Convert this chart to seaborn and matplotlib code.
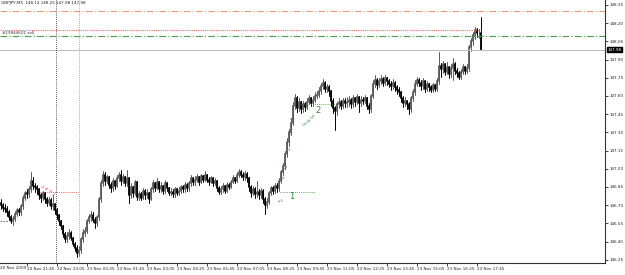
import numpy as np
import pandas as pd
import matplotlib
matplotlib.use("Agg")
import matplotlib.pyplot as plt
import matplotlib.transforms as mtransforms
from matplotlib import font_manager
import seaborn as sns

# ---------------- data ----------------
symbol_header = "GBPJPY,M5  148.12 148.25 147.98 147.98"
first_open = 146.72
closes = [
    146.70, 146.68, 146.67, 146.64, 146.60, 146.57, 146.59, 146.63, 146.66, 146.64,
    146.69, 146.76, 146.80, 146.79, 146.83, 146.90, 146.86, 146.85, 146.83, 146.78,
    146.76, 146.80, 146.75, 146.72, 146.74, 146.69, 146.71, 146.66, 146.62, 146.57,
    146.53, 146.46, 146.42, 146.45, 146.47, 146.43, 146.38, 146.35, 146.31, 146.33,
    146.42, 146.47, 146.49, 146.57, 146.60, 146.62, 146.58, 146.55, 146.60, 146.75,
    146.88, 146.95, 146.90, 146.93, 146.87, 146.84, 146.90, 146.86, 146.92, 146.95,
    146.90, 146.93, 146.88, 146.92, 146.78, 146.85, 146.80, 146.89, 146.77, 146.79,
    146.76, 146.82, 146.78, 146.80, 146.75, 146.83, 146.88, 146.84, 146.89, 146.83,
    146.86, 146.82, 146.88, 146.84, 146.80, 146.81, 146.79, 146.83, 146.80, 146.82,
    146.85, 146.83, 146.87, 146.84, 146.88, 146.92, 146.89, 146.91, 146.93, 146.89,
    146.94, 146.91, 146.95, 146.91, 146.89, 146.92, 146.88, 146.90, 146.84, 146.81,
    146.83, 146.86, 146.82, 146.87, 146.85, 146.89, 146.92, 146.90, 146.95, 146.97,
    146.95, 146.93, 146.96, 146.92, 146.85, 146.80, 146.83, 146.79, 146.81, 146.78,
    146.82, 146.75, 146.70, 146.73, 146.80, 146.84, 146.82, 146.86, 146.84, 146.90,
    146.97, 147.02, 147.12, 147.22, 147.30, 147.38, 147.52, 147.58, 147.50, 147.55,
    147.49, 147.53, 147.51, 147.55, 147.58, 147.54, 147.57, 147.60, 147.61, 147.64,
    147.68, 147.71, 147.66, 147.67, 147.64, 147.56, 147.50, 147.48, 147.53, 147.55,
    147.52, 147.56, 147.54, 147.55, 147.57, 147.53, 147.58, 147.55, 147.59, 147.54,
    147.57, 147.56, 147.58, 147.52, 147.49, 147.60, 147.70, 147.73, 147.69, 147.72,
    147.74, 147.71, 147.75, 147.72, 147.70, 147.68, 147.71, 147.67, 147.65, 147.63,
    147.58, 147.54, 147.56, 147.53, 147.49, 147.58, 147.63, 147.70, 147.73, 147.71,
    147.68, 147.72, 147.66, 147.70, 147.67, 147.65, 147.69, 147.66, 147.72, 147.85,
    147.82, 147.86, 147.80, 147.84, 147.78, 147.83, 147.86, 147.81, 147.79, 147.76,
    147.80, 147.84, 147.81, 147.83, 148.00, 148.05, 148.10, 148.14, 148.12, 148.12,
    147.98,
]
highs = [
    146.75, 146.72, 146.71, 146.69, 146.66, 146.62, 146.61, 146.65, 146.68, 146.68,
    146.71, 146.78, 146.82, 146.83, 146.86, 146.97, 146.93, 146.88, 146.87, 146.84,
    146.80, 146.82, 146.81, 146.77, 146.77, 146.76, 146.78, 146.72, 146.68, 146.63,
    146.58, 146.54, 146.48, 146.48, 146.50, 146.49, 146.44, 146.40, 146.37, 146.36,
    146.44, 146.50, 146.52, 146.59, 146.63, 146.65, 146.64, 146.60, 146.62, 146.77,
    146.91, 146.98, 146.97, 146.95, 146.94, 146.89, 146.92, 146.91, 146.95, 146.97,
    146.99, 146.96, 146.94, 146.99, 146.93, 146.88, 146.86, 146.91, 146.90, 146.82,
    146.81, 146.84, 146.83, 146.83, 146.81, 146.85, 146.91, 146.89, 146.92, 146.90,
    146.89, 146.87, 146.91, 146.89, 146.85, 146.84, 146.83, 146.85, 146.84, 146.85,
    146.87, 146.87, 146.89, 146.88, 146.90, 146.95, 146.93, 146.94, 146.96, 146.94,
    146.96, 146.95, 146.98, 146.96, 146.93, 146.94, 146.93, 146.92, 146.91, 146.86,
    146.86, 146.88, 146.87, 146.89, 146.88, 146.91, 146.95, 146.93, 146.97, 147.00,
    146.99, 146.97, 146.98, 146.97, 146.93, 146.87, 146.86, 146.85, 146.90, 146.83,
    146.84, 146.83, 146.77, 146.76, 146.82, 146.86, 146.86, 146.88, 146.88, 146.92,
    146.99, 147.05, 147.15, 147.25, 147.33, 147.42, 147.55, 147.62, 147.60, 147.58,
    147.56, 147.56, 147.55, 147.58, 147.61, 147.59, 147.60, 147.63, 147.64, 147.67,
    147.71, 147.74, 147.72, 147.70, 147.69, 147.65, 147.58, 147.52, 147.55, 147.58,
    147.57, 147.58, 147.58, 147.59, 147.60, 147.58, 147.61, 147.59, 147.62, 147.60,
    147.60, 147.59, 147.61, 147.59, 147.54, 147.62, 147.73, 147.77, 147.75, 147.75,
    147.77, 147.76, 147.77, 147.76, 147.74, 147.72, 147.74, 147.72, 147.69, 147.67,
    147.64, 147.60, 147.59, 147.57, 147.55, 147.60, 147.66, 147.73, 147.76, 147.75,
    147.73, 147.75, 147.73, 147.72, 147.71, 147.69, 147.71, 147.70, 147.75, 147.96,
    147.87, 147.89, 147.87, 147.88, 147.85, 147.86, 147.91, 147.88, 147.83, 147.81,
    147.82, 147.86, 147.85, 147.86, 148.02, 148.08, 148.13, 148.17, 148.16, 148.15,
    148.25,
]
lows = [
    146.67, 146.65, 146.64, 146.61, 146.58, 146.55, 146.54, 146.57, 146.61, 146.62,
    146.62, 146.67, 146.74, 146.76, 146.77, 146.81, 146.83, 146.81, 146.79, 146.75,
    146.73, 146.74, 146.72, 146.69, 146.70, 146.67, 146.66, 146.63, 146.59, 146.54,
    146.50, 146.44, 146.40, 146.40, 146.42, 146.41, 146.36, 146.32, 146.27, 146.28,
    146.31, 146.40, 146.45, 146.47, 146.55, 146.57, 146.56, 146.51, 146.53, 146.58,
    146.73, 146.86, 146.87, 146.88, 146.84, 146.81, 146.82, 146.83, 146.85, 146.90,
    146.87, 146.88, 146.86, 146.86, 146.72, 146.76, 146.77, 146.78, 146.74, 146.74,
    146.74, 146.75, 146.75, 146.76, 146.72, 146.74, 146.81, 146.82, 146.83, 146.81,
    146.81, 146.79, 146.80, 146.82, 146.78, 146.78, 146.77, 146.77, 146.78, 146.78,
    146.80, 146.81, 146.81, 146.82, 146.82, 146.86, 146.87, 146.87, 146.89, 146.87,
    146.88, 146.89, 146.90, 146.89, 146.87, 146.88, 146.86, 146.87, 146.82, 146.79,
    146.79, 146.81, 146.80, 146.81, 146.83, 146.84, 146.88, 146.88, 146.89, 146.93,
    146.93, 146.91, 146.91, 146.89, 146.82, 146.77, 146.78, 146.76, 146.77, 146.75,
    146.76, 146.72, 146.63, 146.68, 146.71, 146.78, 146.79, 146.80, 146.81, 146.82,
    146.88, 146.95, 147.00, 147.10, 147.19, 147.28, 147.36, 147.49, 147.47, 147.48,
    147.46, 147.47, 147.48, 147.49, 147.53, 147.52, 147.52, 147.55, 147.58, 147.59,
    147.62, 147.66, 147.63, 147.63, 147.60, 147.52, 147.46, 147.32, 147.44, 147.50,
    147.49, 147.50, 147.51, 147.51, 147.52, 147.50, 147.51, 147.52, 147.53, 147.47,
    147.52, 147.53, 147.54, 147.49, 147.46, 147.47, 147.58, 147.67, 147.66, 147.67,
    147.70, 147.68, 147.69, 147.69, 147.67, 147.65, 147.66, 147.64, 147.62, 147.60,
    147.55, 147.51, 147.52, 147.49, 147.45, 147.47, 147.56, 147.61, 147.68, 147.68,
    147.65, 147.66, 147.63, 147.64, 147.64, 147.63, 147.63, 147.64, 147.64, 147.70,
    147.76, 147.79, 147.77, 147.78, 147.75, 147.76, 147.73, 147.78, 147.76, 147.74,
    147.74, 147.78, 147.78, 147.79, 147.81, 147.97, 148.02, 148.07, 148.09, 148.08,
    147.98,
]
opens = [first_open] + closes[:-1]

time_labels = ["20 Nov 2009", "20 Nov 21:45", "22 Nov 23:05", "23 Nov 00:25",
               "23 Nov 01:45", "23 Nov 03:05", "23 Nov 04:25", "23 Nov 05:45",
               "23 Nov 07:05", "23 Nov 08:25", "23 Nov 09:45", "23 Nov 11:05",
               "23 Nov 12:25", "23 Nov 13:45", "23 Nov 15:05", "23 Nov 16:25",
               "23 Nov 17:45"]
price_ticks = [148.35, 148.20, 148.05, 147.90, 147.75, 147.60, 147.45, 147.30,
               147.15, 147.00, 146.85, 146.70, 146.55, 146.40, 146.25]
tp_level = 148.30      # orange dash-dot
open_level = 148.145   # red dotted (order)
sl_level = 148.095     # green dash-dot
bid_level = 147.98

n = len(closes)
bars = np.arange(n)
direction = ["up" if c >= o else "down" for o, c in zip(opens, closes)]

wick_df = pd.DataFrame({
    "bar": np.concatenate([bars, bars]),
    "price": np.concatenate([lows, highs]),
    "dir": direction + direction,
})
body_df = pd.DataFrame({
    "bar": np.concatenate([bars, bars]),
    "price": np.concatenate([opens, closes]),
    "dir": direction + direction,
})

# ---------------- figure ----------------
sns.set_theme(style="white")
installed = {f.name for f in font_manager.fontManager.ttflist}
if "Liberation Sans Narrow" in installed:
    small_family = ["Liberation Sans Narrow", "DejaVu Sans"]
    fs = 4.1
else:
    small_family = ["DejaVu Sans"]
    fs = 3.0
plt.rcParams["font.family"] = small_family

fig = plt.figure(figsize=(6.25, 2.75), dpi=100)
ax = fig.add_axes([0.0, 1 - 263 / 275, 605 / 625, 263 / 275])
ax.set_facecolor("white")

pal = {"up": "#5a5a5a", "down": "#000000"}
sns.lineplot(data=wick_df, x="bar", y="price", units="bar", estimator=None,
             hue="dir", palette=pal, linewidth=0.7, sort=False, legend=False, ax=ax)
sns.lineplot(data=body_df, x="bar", y="price", units="bar", estimator=None,
             hue="dir", palette=pal, linewidth=1.3, sort=False, legend=False, ax=ax)

ax.set_xlim(-0.5, 302.0)
ax.set_ylim(146.2236, 148.391)

# horizontal levels
ax.axhline(tp_level, color="#eb9a78", lw=0.8, ls=(0, (6, 2, 1, 2)))
ax.axhline(sl_level, color="#4aa04a", lw=0.8, ls=(0, (6, 2, 1, 2)))
ax.axhline(bid_level, color="#c0c0c0", lw=0.8)
ax.plot([-0.5, 240], [open_level, open_level], color="#e07070", lw=0.8, ls=(0, (1, 1)))

# vertical period separators
ax.axvline(27.5, color="#202020", lw=0.6, ls=(0, (1, 1.5)))
ax.axvline(39.0, color="#909090", lw=0.6, ls=(0, (1, 1.5)))

# small dotted level stubs
ax.plot([19.5, 38.5], [146.81, 146.81], color="#e03030", lw=0.6, ls=(0, (1, 1.5)))
ax.plot([-0.5, 3.5], [146.57, 146.57], color="#2e8b2e", lw=0.6, ls=(0, (2, 1.5)))
ax.plot([139.5, 157.0], [146.81, 146.81], color="#2e8b2e", lw=0.6, ls=(0, (1, 1.5)))
ax.plot([149.5, 168.0], [147.53, 147.53], color="#2e8b2e", lw=0.6, ls=(0, (1, 1.5)))

green = "#2e8b2e"
ax.text(145.5, 146.77, "1", color=green, fontsize=6, ha="center", va="center")
ax.text(158.5, 147.48, "2", color=green, fontsize=6, ha="center", va="center")
for xx, yy, s in [(139, 146.74, "2"), (140, 146.93, "4"), (141.5, 147.01, "5"),
                  (143, 147.16, "7"), (144, 147.30, "6"), (145, 147.41, "8"),
                  (151, 147.37, "3"), (153, 147.40, "4"), (155, 147.43, "5")]:
    ax.text(xx, yy, s, color=green, fontsize=3.5, ha="center", va="center", rotation=-60)
for xx, yy, s in [(20, 146.85, "2"), (22, 146.84, "4"), (24, 146.82, "3"), (25.5, 146.79, "5")]:
    ax.text(xx, yy, s, color="#e03030", fontsize=3.2, ha="center", va="center", rotation=-60)

# axes styling (MT4 like)
for side in ["top", "left"]:
    ax.spines[side].set_visible(False)
for side in ["right", "bottom"]:
    ax.spines[side].set_visible(True)
    ax.spines[side].set_color("#333333")
    ax.spines[side].set_linewidth(0.8)

ax.yaxis.tick_right()
ax.set_yticks(price_ticks)
ax.set_yticklabels([f"{p:.2f}" for p in price_ticks])
ax.tick_params(axis="y", which="both", right=True, left=False, length=2, width=0.6,
               pad=1.2, labelsize=fs, colors="#222222", direction="out")

tick_pos = [-2 + 15 * k for k in range(len(time_labels))]
ax.set_xticks(tick_pos[1:])
ax.set_xticklabels(time_labels[1:], ha="left")
ax.tick_params(axis="x", which="both", bottom=True, length=2, width=0.6, pad=1.2,
               labelsize=fs, colors="#222222", direction="out")
trans, va0, ha0 = ax.get_xaxis_text1_transform(2.0)
ax.text(-0.5, 0, time_labels[0], transform=trans,
        ha="left", va=va0, fontsize=fs, color="#222222", clip_on=False)
ax.set_xlabel("")
ax.set_ylabel("")
ax.grid(False)

# last price box
ax.text(1.004, bid_level, f"{bid_level:.2f}",
        transform=mtransforms.blended_transform_factory(ax.transAxes, ax.transData),
        ha="left", va="center", fontsize=fs, color="white",
        bbox=dict(boxstyle="square,pad=0.15", fc="black", ec="black"), clip_on=False)

fig.text(0.002, 0.995, symbol_header, ha="left", va="top", fontsize=fs, color="#222222")
ax.text(0.5, 148.12, "#19944601 sell", ha="left", va="center", fontsize=fs, color="#333333")

fig.savefig("out.png", dpi=100, facecolor="white")
